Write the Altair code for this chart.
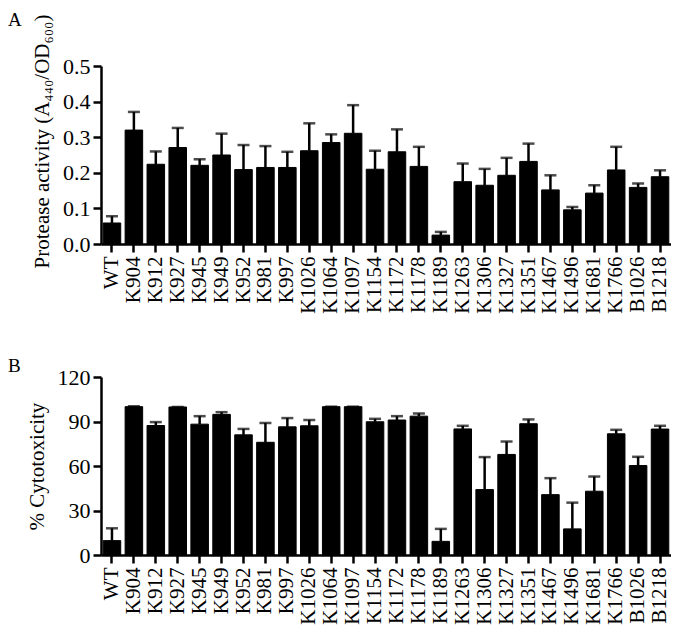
import altair as alt
import pandas as pd

strains = ["WT", "K904", "K912", "K927", "K945", "K949", "K952", "K981", "K997",
           "K1026", "K1064", "K1097", "K1154", "K1172", "K1178", "K1189", "K1263",
           "K1306", "K1327", "K1351", "K1467", "K1496", "K1681", "K1766", "B1026", "B1218"]

protease = [0.059, 0.320, 0.224, 0.271, 0.221, 0.250, 0.209, 0.215, 0.215,
            0.262, 0.285, 0.311, 0.210, 0.259, 0.218, 0.025, 0.175,
            0.165, 0.193, 0.232, 0.152, 0.096, 0.143, 0.208, 0.159, 0.189]
protease_err = [0.019, 0.051, 0.036, 0.055, 0.017, 0.060, 0.069, 0.060, 0.044,
                0.077, 0.023, 0.079, 0.052, 0.063, 0.055, 0.009, 0.051,
                0.046, 0.049, 0.050, 0.041, 0.008, 0.022, 0.065, 0.011, 0.018]

cyto = [9.7, 100.0, 87.3, 99.8, 88.2, 94.8, 81.0, 76.0, 86.4,
        87.1, 100.0, 100.0, 89.8, 91.0, 93.6, 9.2, 85.0,
        44.1, 67.8, 88.5, 40.7, 17.6, 43.0, 81.7, 60.3, 84.9]
cyto_err = [8.3, 0.3, 2.3, 0.0, 5.4, 1.5, 4.0, 13.0, 5.9,
            3.9, 0.0, 0.0, 2.0, 2.6, 1.8, 8.4, 2.1,
            21.9, 8.7, 2.9, 11.1, 17.7, 9.9, 2.7, 5.9, 2.2]

FONT = "Liberation Serif"

dfA = pd.DataFrame({"strain": strains, "value": protease,
                    "upper": [v + e for v, e in zip(protease, protease_err)]})
dfB = pd.DataFrame({"strain": strains, "value": cyto,
                    "upper": [v + e for v, e in zip(cyto, cyto_err)]})

xaxis = alt.Axis(labelAngle=-90, labelFontSize=21, labelPadding=4,
                 tickSize=8, labelFont=FONT)
xenc = alt.X("strain:N", sort=strains, title=None,
             scale=alt.Scale(paddingInner=0.2, paddingOuter=0.1), axis=xaxis)


def panel(df, letter, title, domain, ticks, fmt, title_y=None, letter_y=-46):
    axis_kw = dict(values=ticks, format=fmt, labelFontSize=22, labelFont=FONT,
                   titleFont=FONT, titleFontSize=21, titleFontWeight="normal",
                   tickSize=8, labelPadding=3, titlePadding=10, grid=False,
                   labelOverlap=False)
    if title_y is not None:
        axis_kw["titleY"] = title_y
    yaxis = alt.Axis(**axis_kw)
    yscale = alt.Scale(domain=domain, nice=False)
    base = alt.Chart(df)
    bars = base.mark_bar(color="black", stroke="black", strokeWidth=1).encode(
        x=xenc,
        y=alt.Y("value:Q", scale=yscale, title=title, axis=yaxis),
    )
    err = base.mark_rule(color="black", strokeWidth=2.5).encode(
        x=xenc, y=alt.Y("value:Q", scale=yscale, title=title, axis=yaxis),
        y2="upper:Q")
    cap = base.mark_tick(color="black", thickness=2.5, size=12).encode(
        x=xenc, y=alt.Y("upper:Q", scale=yscale, title=title, axis=yaxis))
    label = alt.Chart(pd.DataFrame({"t": [letter]})).mark_text(
        font=FONT, fontSize=19, align="left", baseline="alphabetic", color="black"
    ).encode(text="t:N", x=alt.value(-93), y=alt.value(letter_y))
    return alt.layer(bars, err, cap, label).properties(width=570, height=178)


A = panel(dfA, "A", "Protease activity (A₄₄₀/OD₆₀₀)", [0, 0.5],
          [0, 0.1, 0.2, 0.3, 0.4, 0.5], ".1f", title_y=75, letter_y=-40)
B = panel(dfB, "B", "% Cytotoxicity", [0, 120], [0, 30, 60, 90, 120], "d",
          letter_y=-5)

chart = alt.vconcat(A, B, spacing=43).properties(
    padding={"top": 3, "left": 0, "right": 0, "bottom": 0}).configure_view(
    stroke=None).configure_axis(
    domainColor="black", domainWidth=2.5, tickColor="black", tickWidth=2.5,
    labelColor="black", titleColor="black")

chart.save("out.html", embed_options={"renderer": "svg", "actions": False})
